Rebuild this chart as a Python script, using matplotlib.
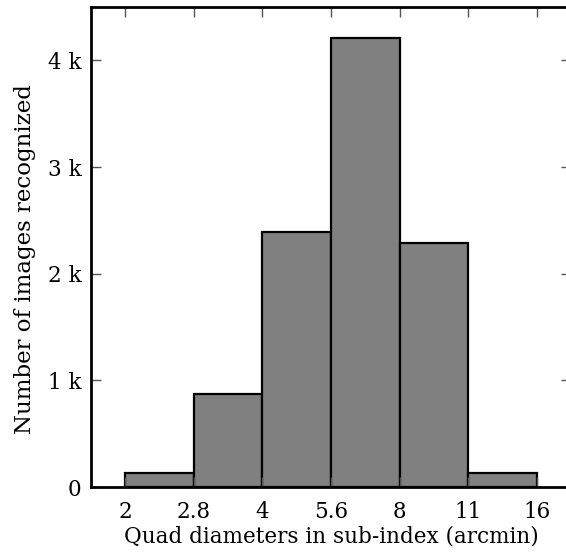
import matplotlib
matplotlib.use('Agg')
import matplotlib.pyplot as plt
from matplotlib.ticker import FuncFormatter, FixedLocator, NullLocator

# --- data ---
bin_edges = [2.0, 2.83, 4.0, 5.66, 8.0, 11.31, 16.0]
tick_labels = ['2', '2.8', '4', '5.6', '8', '11', '16']
counts = [130, 870, 2390, 4210, 2290, 130]

plt.rcParams['font.family'] = ['DejaVu Serif']

fig = plt.figure(figsize=(5.66, 5.53), dpi=100)
ax = fig.add_axes([91 / 566, 1 - 487 / 553, 480 / 566, 480 / 553])

lefts = bin_edges[:-1]
widths = [b - a for a, b in zip(bin_edges[:-1], bin_edges[1:])]
ax.bar(lefts, counts, width=widths, align='edge', color='#808080',
       edgecolor='black', linewidth=1.6)

ax.set_xscale('log')
ax.set_xlim(2 / 2 ** 0.25, 16 * 2 ** 0.25)
ax.set_ylim(0, 4500)
ax.xaxis.set_major_locator(FixedLocator(bin_edges))
ax.xaxis.set_minor_locator(NullLocator())
ax.set_xticklabels(tick_labels)
ax.set_yticks([0, 1000, 2000, 3000, 4000])
ax.yaxis.set_major_formatter(FuncFormatter(lambda v, p: '0' if v == 0 else f'{v / 1000:.0f} k'))

ax.tick_params(direction='in', length=7, width=1, color='#555555',
               top=True, right=True, labelsize=15.5)
ax.tick_params(axis='x', pad=10)
ax.tick_params(axis='y', pad=7)
for s in ['left', 'bottom', 'top']:
    ax.spines[s].set_linewidth(2)
ax.spines['right'].set_visible(False)

ax.set_xlabel('Quad diameters in sub-index (arcmin)', fontsize=15.5, labelpad=2)
ax.set_ylabel('Number of images recognized', fontsize=16.5)
ax.yaxis.set_label_coords(-0.115, 0.475)

fig.savefig('out.png', dpi=100)
